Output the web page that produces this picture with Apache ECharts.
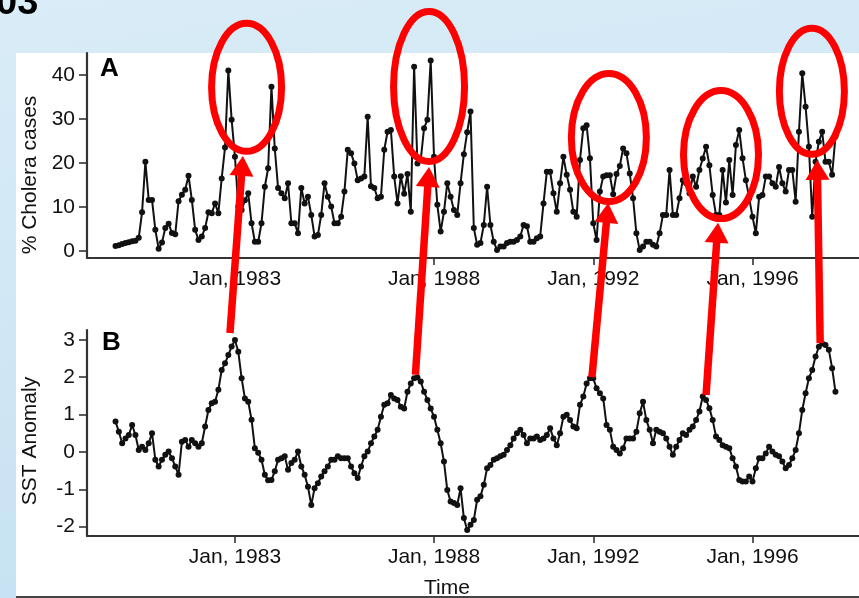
<!DOCTYPE html>
<html>
<head>
<meta charset="utf-8">
<script src="https://cdn.jsdelivr.net/npm/echarts@6/dist/echarts.min.js"></script>
<style>
  html, body { margin: 0; padding: 0; width: 859px; height: 598px; overflow: hidden; }
  body {
    position: relative;
    background: linear-gradient(172deg, #d9ecf7 0%, #d3e9f6 30%, #c3e0f1 100%);
  }
  #sheet { position: absolute; left: 16px; top: 53px; right: 0; bottom: 0; background: #ffffff; }
  #chart { position: absolute; left: 0; top: 0; width: 859px; height: 598px; }
</style>
</head>
<body>
<div id="sheet"></div>
<div id="chart"></div>
<script>
// Monthly series, first value = Jan 1980 (month index 0).
const startYear = 1980;

// Panel A: percentage of cholera cases per month
const cholera = [
  1.1, 1.3, 1.6, 1.8, 2.0, 2.2, 2.3, 3.0, 8.8, 20.3,
  11.6, 11.6, 4.8, 0.5, 1.9, 5.2, 6.2, 4.1, 3.8, 11.3,
  12.8, 13.9, 17.1, 11.6, 4.8, 2.5, 3.3, 5.2, 8.8, 8.6,
  10.8, 8.6, 16.5, 23.5, 41.0, 29.8, 21.4, 10.1, 9.3, 11.5,
  13.1, 6.3, 2.1, 2.1, 6.3, 14.6, 18.8, 37.3, 23.3, 14.3,
  13.1, 12.0, 15.4, 6.3, 6.3, 4.0, 14.3, 10.8, 12.3, 8.2,
  3.3, 3.6, 8.2, 15.4, 12.3, 10.1, 6.3, 6.3, 7.8, 13.5,
  23.0, 22.2, 19.9, 16.1, 16.5, 16.9, 30.5, 14.7, 14.3, 12.0,
  12.3, 23.0, 27.1, 27.5, 16.9, 10.8, 17.0, 13.0, 17.5, 8.9,
  41.9, 19.9, 20.7, 27.9, 29.8, 43.3, 21.4, 10.5, 4.4, 8.9,
  15.4, 12.3, 9.3, 8.2, 15.4, 22.0, 27.0, 31.7, 5.2, 1.4,
  1.8, 5.9, 14.6, 5.9, 2.1, 0.2, 1.0, 1.0, 1.8, 2.1,
  2.1, 2.5, 3.3, 5.9, 5.6, 2.1, 2.1, 2.9, 3.3, 10.8,
  18.0, 18.0, 13.1, 8.9, 15.4, 21.4, 17.3, 13.9, 8.9, 7.8,
  20.7, 27.9, 28.6, 21.1, 6.3, 2.5, 13.5, 16.9, 17.2, 17.2,
  12.9, 17.5, 19.3, 23.3, 22.2, 17.6, 12.0, 4.0, 0.2, 1.0,
  2.1, 2.1, 1.4, 1.0, 4.0, 8.2, 8.2, 18.4, 8.2, 8.2,
  12.0, 16.1, 15.4, 13.1, 16.9, 14.6, 18.4, 21.0, 23.7, 19.5,
  12.7, 8.2, 8.2, 18.4, 11.0, 20.7, 12.7, 24.1, 27.5, 21.1,
  16.1, 12.0, 7.8, 4.0, 12.3, 12.7, 16.9, 16.9, 15.4, 14.6,
  19.1, 15.4, 13.5, 18.4, 18.4, 11.2, 27.1, 40.4, 32.8, 23.7,
  7.8, 20.3, 24.8, 27.1, 20.3, 20.3, 17.3, 26.0
];

// Panel B: sea surface temperature anomaly per month
const sst = [
  0.81, 0.54, 0.23, 0.36, 0.45, 0.72, 0.45, 0.05, 0.14, 0.05,
  0.23, 0.50, -0.21, -0.39, -0.21, -0.08, 0.01, -0.17, -0.39, -0.61,
  0.27, 0.32, 0.14, 0.32, 0.23, 0.14, 0.23, 0.68, 1.12, 1.30,
  1.34, 1.66, 2.19, 2.37, 2.59, 2.82, 2.99, 2.68, 1.97, 1.43,
  1.34, 0.86, 0.10, -0.02, -0.21, -0.61, -0.76, -0.75, -0.52, -0.21,
  -0.17, -0.12, -0.48, -0.30, -0.21, 0.01, -0.39, -0.61, -0.93, -1.42,
  -0.97, -0.84, -0.66, -0.52, -0.39, -0.21, -0.21, -0.12, -0.17, -0.17,
  -0.17, -0.39, -0.57, -0.70, -0.39, -0.12, 0.01, 0.23, 0.41, 0.59,
  0.94, 1.26, 1.30, 1.52, 1.43, 1.39, 1.21, 1.16, 1.61, 1.83,
  1.97, 1.99, 1.88, 1.61, 1.39, 1.16, 0.94, 0.59, 0.23, -0.26,
  -1.02, -1.33, -1.37, -1.42, -0.97, -1.77, -2.09, -1.95, -1.82, -1.28,
  -1.19, -0.88, -0.44, -0.35, -0.21, -0.17, -0.12, -0.08, 0.05, 0.18,
  0.36, 0.50, 0.59, 0.45, 0.23, 0.36, 0.36, 0.41, 0.32, 0.36,
  0.45, 0.63, 0.36, 0.18, 0.50, 0.94, 0.99, 0.85, 0.68, 0.63,
  1.26, 1.48, 1.83, 1.97, 1.97, 1.70, 1.57, 1.43, 0.72, 0.59,
  0.14, 0.05, -0.04, 0.10, 0.36, 0.36, 0.36, 0.54, 1.03, 1.34,
  0.85, 0.59, 0.23, 0.59, 0.54, 0.50, 0.36, 0.14, -0.08, 0.14,
  0.32, 0.50, 0.45, 0.59, 0.68, 0.85, 1.08, 1.48, 1.39, 1.17,
  0.85, 0.41, 0.32, 0.18, 0.14, 0.10, -0.17, -0.39, -0.75, -0.79,
  -0.79, -0.66, -0.79, -0.44, -0.17, -0.17, -0.04, 0.14, 0.01, -0.08,
  -0.12, -0.26, -0.44, -0.35, -0.17, 0.05, 0.50, 1.12, 1.57, 1.97,
  2.19, 2.55, 2.81, 2.90, 2.86, 2.73, 2.24, 1.61
];

// Time axis ticks (month index from Jan 1980) and their labels
const tickMonths = [36, 96, 144, 192];
const tickLabels = ['Jan, 1983', 'Jan, 1988', 'Jan, 1992', 'Jan, 1996'];
const choleraTicks = [0, 10, 20, 30, 40];
const sstTicks = [-2, -1, 0, 1, 2, 3];

// Highlighted outbreaks (panel A, [month, %]) and the warm-anomaly links (panel B -> panel A)
const outbreakCentres = [[39.5, 37.2], [94.5, 37.4], [148.7, 25.8], [182.5, 21.9], [209.9, 36.3]];
const outbreakRadii = [[35, 64], [35.5, 75], [37.5, 64], [37.5, 64], [32.5, 63]];
const linkFrom = [[34.5, 3.18], [90.4, 2.06], [143.6, 2.0], [178, 1.52], [212.4, 2.91]];
const linkTo = [[38.4, 21.6], [94.5, 19.1], [148.5, 10.9], [181.6, 6.4], [211.5, 20.7]];

const FONT = 'Liberation Sans, Arial, Helvetica, sans-serif';
const INK = '#111111';
const RED = '#ff0000';

const toPairs = arr => arr.map((v, i) => [i, v]);
const labelFor = v => {
  const k = tickMonths.indexOf(Math.round(v));
  return k >= 0 ? tickLabels[k] : '';
};

function timeAxis(gridIndex) {
  return {
    type: 'value', gridIndex, min: -8.6, max: 224.1,
    axisLine: { show: true, onZero: false, lineStyle: { color: '#333', width: 2.2 } },
    axisTick: { show: true, customValues: tickMonths, length: 7, lineStyle: { color: '#333', width: 1.6 } },
    axisLabel: { customValues: tickMonths, formatter: labelFor, margin: 11,
      fontFamily: FONT, fontSize: 21, color: INK },
    splitLine: { show: false }
  };
}

function valueAxis(gridIndex, min, max, ticks) {
  return {
    type: 'value', gridIndex, min, max,
    axisLine: { show: true, onZero: false, lineStyle: { color: '#333', width: 2.2 } },
    axisTick: { show: true, customValues: ticks, length: 8, lineStyle: { color: '#333', width: 1.6 } },
    axisLabel: { customValues: ticks, margin: 12, fontFamily: FONT, fontSize: 21, color: INK },
    splitLine: { show: false }
  };
}

function lineSeries(data, idx) {
  return {
    type: 'line', xAxisIndex: idx, yAxisIndex: idx, data: toPairs(data),
    symbol: 'circle', symbolSize: 6, showSymbol: true,
    lineStyle: { color: INK, width: 2 },
    itemStyle: { color: INK },
    emphasis: { disabled: true }
  };
}

const chart = echarts.init(document.getElementById('chart'), null, { renderer: 'canvas' });
chart.setOption({
  animation: false,
  backgroundColor: 'transparent',
  grid: [
    { left: 87, right: 0, top: 53, height: 205 },
    { left: 87, right: 0, top: 330, height: 206 }
  ],
  xAxis: [timeAxis(0), timeAxis(1)],
  yAxis: [valueAxis(0, -1.6, 45, choleraTicks), valueAxis(1, -2.25, 3.26, sstTicks)],
  series: [lineSeries(cholera, 0), lineSeries(sst, 1)]
});

// Annotation layer, placed through the axes' own coordinate systems
function arrow(p0, p1) {
  const dx = p1[0] - p0[0], dy = p1[1] - p0[1];
  const len = Math.hypot(dx, dy), ux = dx / len, uy = dy / len;
  const headLen = 20, headHalf = 12;
  const bx = p1[0] - ux * headLen, by = p1[1] - uy * headLen;
  return [
    { type: 'line', z: 50, shape: { x1: p0[0], y1: p0[1], x2: bx + ux * 2, y2: by + uy * 2 },
      style: { stroke: RED, lineWidth: 7.5, lineCap: 'butt' } },
    { type: 'polygon', z: 50, shape: { points: [
        [p1[0], p1[1]], [bx - uy * headHalf, by + ux * headHalf], [bx + uy * headHalf, by - ux * headHalf]] },
      style: { fill: RED } }
  ];
}

const graphics = [];
outbreakCentres.forEach((c, i) => {
  const p = chart.convertToPixel({ gridIndex: 0 }, c);
  graphics.push({ type: 'ellipse', z: 50,
    shape: { cx: p[0], cy: p[1], rx: outbreakRadii[i][0], ry: outbreakRadii[i][1] },
    style: { fill: 'none', stroke: RED, lineWidth: 7 } });
});
linkFrom.forEach((f, i) => {
  const p0 = chart.convertToPixel({ gridIndex: 1 }, f);
  const p1 = chart.convertToPixel({ gridIndex: 0 }, linkTo[i]);
  graphics.push(...arrow(p0, p1));
});

const textEl = (text, x, y, font, opts) => Object.assign({
  type: 'text', z: 60, x, y,
  style: Object.assign({ text, font, fill: '#000', textAlign: 'left', textVerticalAlign: 'top',
    align: 'left', verticalAlign: 'top' }, (opts && opts.style) || {})
}, (opts && opts.el) || {});

graphics.push(
  textEl('03', -4, 23, 'bold 38px ' + FONT, { style: { textVerticalAlign: 'bottom', verticalAlign: 'bottom' } }),
  textEl('A', 100, 56, 'bold 26px ' + FONT),
  textEl('B', 102, 330, 'bold 26px ' + FONT),
  textEl('% Cholera cases', 30, 175, '21px ' + FONT, {
    style: { textAlign: 'center', align: 'center', textVerticalAlign: 'middle', verticalAlign: 'middle', fill: INK },
    el: { rotation: Math.PI / 2 } }),
  textEl('SST Anomaly', 30, 441, '21px ' + FONT, {
    style: { textAlign: 'center', align: 'center', textVerticalAlign: 'middle', verticalAlign: 'middle', fill: INK },
    el: { rotation: Math.PI / 2 } }),
  textEl('Time', 447, 588, '21px ' + FONT, {
    style: { textAlign: 'center', align: 'center', textVerticalAlign: 'middle', verticalAlign: 'middle', fill: INK } }),
  { type: 'line', z: 40, shape: { x1: 16, y1: 597, x2: 859, y2: 597 },
    style: { stroke: '#444', lineWidth: 2 } }
);

chart.setOption({ graphic: graphics });
</script>
</body>
</html>
